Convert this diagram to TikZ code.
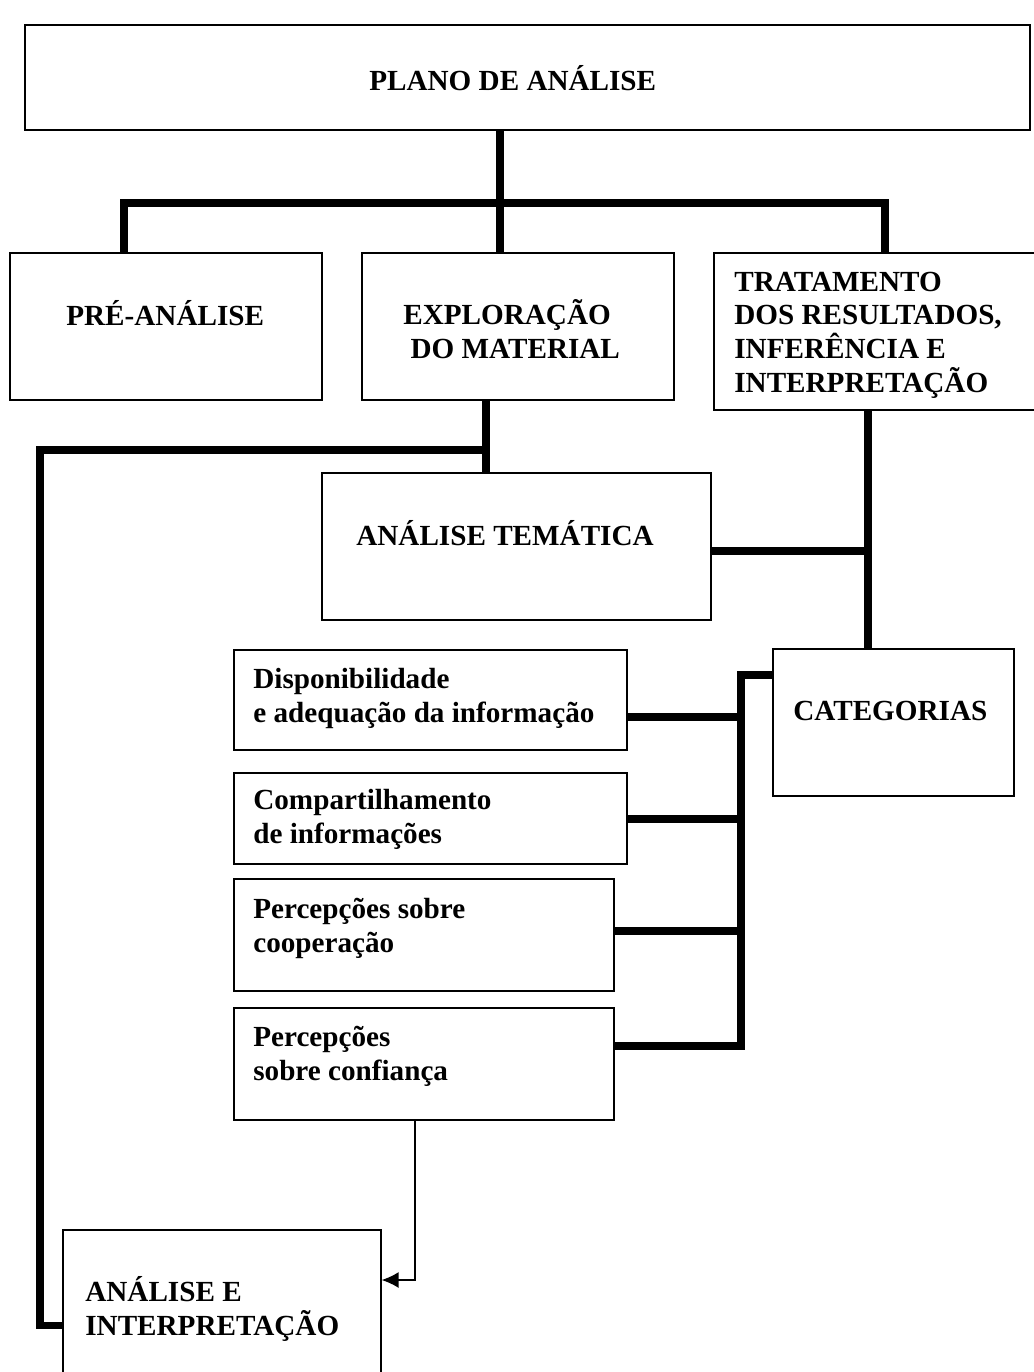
\documentclass[tikz,border=0pt]{standalone}
\usepackage{fontspec}
\setmainfont{Liberation Serif}
\usepackage{tikz}
\usetikzlibrary{arrows.meta}
\tikzset{
  box/.style={draw=black,line width=.8pt,fill=white,inner sep=0pt},
  lbl/.style={inner sep=0pt,anchor=base west,align=left,font=\bfseries\fontsize{16.6}{19.1}\selectfont},
  link/.style={draw=black,line width=4pt},
  arrowlink/.style={draw=black,line width=.8pt,-{Latex[length=.34cm,width=.32cm]}}
}

\begin{document}
\begin{tikzpicture}[x=0.02cm,y=-0.02cm]
\clip (0,0) rectangle (1034,1372);
\node[box,minimum width=20.10cm,minimum height=2.10cm] (plano) at (527.5,77.5) {};
\node[box,minimum width=6.24cm,minimum height=2.94cm] (pre) at (166,326.5) {};
\node[box,minimum width=6.24cm,minimum height=2.94cm] (expl) at (518,326.5) {};
\node[box,minimum width=6.52cm,minimum height=3.14cm] (trat) at (877,331.5) {};
\node[box,minimum width=7.78cm,minimum height=2.94cm] (tema) at (516.5,546.5) {};
\node[box,minimum width=4.82cm,minimum height=2.94cm] (cat) at (893.5,722.5) {};
\node[box,minimum width=7.86cm,minimum height=2.00cm] (disp) at (430.5,700) {};
\node[box,minimum width=7.86cm,minimum height=1.82cm] (comp) at (430.5,818.5) {};
\node[box,minimum width=7.60cm,minimum height=2.24cm] (coop) at (424,935) {};
\node[box,minimum width=7.60cm,minimum height=2.24cm] (conf) at (424,1064) {};
\node[box,minimum width=6.36cm,minimum height=3.40cm] (anin) at (222,1315) {};

\node[lbl] (plano-t) at (369,91) {PLANO DE ANÁLISE};
\node[lbl] (pre-t) at (66,325) {PRÉ-ANÁLISE};
\node[lbl] (expl-t) at (403,358) {EXPLORAÇÃO\\\hspace*{.25em}DO MATERIAL};
\node[lbl] (trat-t) at (734,392) {TRATAMENTO\\DOS RESULTADOS,\\INFERÊNCIA E\\INTERPRETAÇÃO};
\node[lbl] (tema-t) at (356,545) {ANÁLISE TEMÁTICA};
\node[lbl] (cat-t) at (793,720) {CATEGORIAS};
\node[lbl] (disp-t) at (253,722) {Disponibilidade\\e adequação da informação};
\node[lbl] (comp-t) at (253,843) {Compartilhamento\\de informações};
\node[lbl] (coop-t) at (253,952) {Percepções sobre\\cooperação};
\node[lbl] (conf-t) at (253,1080) {Percepções\\sobre confiança};
\node[lbl] (anin-t) at (85,1335) {ANÁLISE E\\INTERPRETAÇÃO};

\coordinate (j1) at (500,203);
\coordinate (bl) at (124,203);
\coordinate (br) at (885,203);
\coordinate (j2) at (486,450);
\coordinate (lt) at (40,450);
\coordinate (lb) at (40,1325);
\coordinate (j3) at (868,551);
\coordinate (bt) at (741,675);
\coordinate (b1) at (741,717);
\coordinate (b2) at (741,819);
\coordinate (b3) at (741,931);
\coordinate (bb) at (741,1046);
\coordinate (ak) at (415,1280);

\draw[link] (plano.south -| j1) -- (expl.north -| j1);
\draw[link] (pre.north -| bl) -- (bl) -- (br) -- (trat.north -| br);
\draw[link] (expl.south -| j2) -- (tema.north -| j2);
\draw[link] (j2) -- (lt) -- (lb) -- (lb -| anin.west);
\draw[link] (trat.south -| j3) -- (cat.north -| j3);
\draw[link] (tema.east |- j3) -- (j3);
\draw[link] (bt -| cat.west) -- (bt) -- (bb) -- (bb -| conf.east);
\foreach \c/\n in {b1/disp,b2/comp,b3/coop}
  \draw[link] (\c -| \n.east) -- (\c);
\draw[arrowlink] (conf.south -| ak) -- (ak) -- (ak -| anin.east);
\end{tikzpicture}
\end{document}
